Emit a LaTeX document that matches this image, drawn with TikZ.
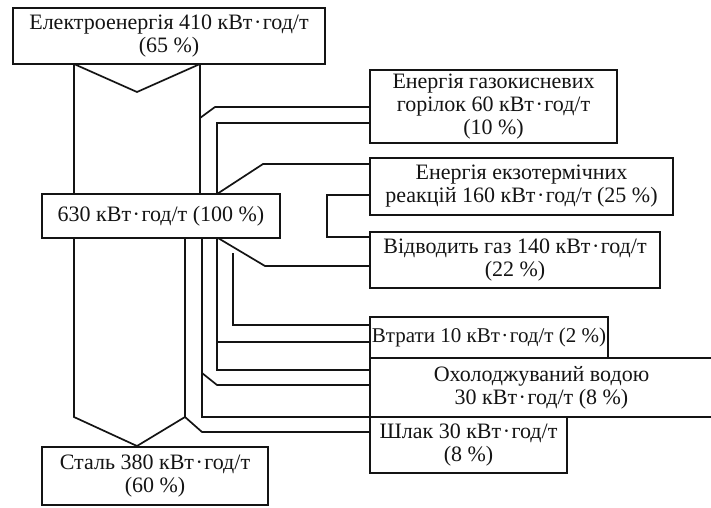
\documentclass[tikz,border=0pt]{standalone}
\usepackage{fontspec}
\setmainfont{Liberation Serif}
\usetikzlibrary{positioning,calc}
\definecolor{flowInk}{HTML}{141414}
\newcommand{\kwh}{кВт\kern1.5pt·\kern1.5pt год/т}
\tikzset{
  flowbox/.style = {draw=flowInk, line width=1.7pt, fill=white, align=center,
                    inner sep=0pt, outer sep=0pt, anchor=north west,
                    font=\fontsize{22}{23}\selectfont, text=flowInk},
  band/.style    = {draw=flowInk, line width=1.7pt, line join=miter},
}

\begin{document}
\begin{tikzpicture}[x=1pt, y=-1pt]
  \useasboundingbox (0,0) rectangle (711,507);

  % boxes
  \node[flowbox, minimum width=312pt, minimum height=56pt] (elec) at (13,8)
    {Електроенергія 410 \kwh\\(65~\%)};
  \node[flowbox, minimum width=238pt, minimum height=44pt] (total) at (42,194)
    {630 \kwh\ (100~\%)};
  \node[flowbox, minimum width=226pt, minimum height=58pt] (steel) at (42,447)
    {Сталь 380 \kwh\\(60~\%)};
  \node[flowbox, minimum width=247pt, minimum height=73pt] (gasox) at (370,70)
    {Енергія газокисневих\\горілок 60 \kwh\\(10~\%)};
  \node[flowbox, minimum width=303pt, minimum height=57pt] (exo) at (370,158)
    {Енергія екзотермічних\\реакцій 160 \kwh\ (25~\%)};
  \node[flowbox, minimum width=290pt, minimum height=56pt] (offgas) at (370,232)
    {Відводить газ 140 \kwh\\(22~\%)};
  \node[flowbox, minimum width=238pt, minimum height=41pt,
        font=\fontsize{21}{23}\selectfont] (loss) at (370,317)
    {Втрати 10 \kwh\ (2~\%)};
  \node[flowbox, minimum width=343pt, minimum height=59pt] (cool) at (370,358)
    {Охолоджуваний водою\\30 \kwh\ (8~\%)};
  \node[flowbox, minimum width=197pt, minimum height=56pt] (slag) at (370,417)
    {Шлак 30 \kwh\\(8~\%)};

  % band edges
  \coordinate (xL) at (74,0);
  \coordinate (xR) at (200,0);
  \coordinate (xS) at (185,0);
  \coordinate (xA) at (202,0);
  \coordinate (xC) at (217,0);
  \coordinate (vtop) at (137,92);
  \coordinate (vbot) at (137,446);
  \coordinate (sL) at (74,417);
  \coordinate (sR) at (185,417);

  % electricity in, steel out
  \draw[band] (xL |- elec.south) -- (vtop) -- (xR |- elec.south);
  \draw[band] (xL |- elec.south) -- (xL |- total.north);
  \draw[band] (xR |- elec.south) -- (xR |- total.north);
  \draw[band] (xL |- total.south) -- (sL) -- (vbot) -- (sR) -- (xS |- total.south);

  % gas-oxygen burners
  \coordinate (g0) at (200,118);
  \coordinate (g1) at (215,107);
  \coordinate (g2) at (217,123);
  \draw[band] (g0) -- (g1) -- (g1 -| gasox.west);
  \draw[band] (xC |- total.north) -- (g2) -- (g2 -| gasox.west);

  % exothermic reactions and off-gas
  \coordinate (e1) at (263,164);
  \coordinate (b1) at (327,195);
  \coordinate (b2) at (327,237);
  \coordinate (o0) at (218,238);
  \coordinate (o1) at (265,266);
  \draw[band] (xC |- total.north) -- (e1) -- (e1 -| exo.west);
  \draw[band] (b1 -| exo.west) -- (b1) -- (b2) -- (b2 -| offgas.west);
  \draw[band] (o0) -- (o1) -- (o1 -| offgas.west);

  % losses, cooling water, slag
  \coordinate (w0) at (233,253);
  \coordinate (w1) at (233,325);
  \coordinate (d0) at (217,342);
  \coordinate (c3) at (217,370);
  \coordinate (c0) at (202,373);
  \coordinate (c1) at (217,385);
  \coordinate (a1) at (202,417);
  \coordinate (s1) at (202,432);
  \draw[band] (w0) -- (w1) -- (w1 -| loss.west);
  \draw[band] (d0) -- (d0 -| loss.west);
  \draw[band] (xC |- total.south) -- (c3) -- (c3 -| cool.west);
  \draw[band] (c0) -- (c1) -- (c1 -| cool.west);
  \draw[band] (xA |- total.south) -- (a1) -- (a1 -| cool.west);
  \draw[band] (sR) -- (s1) -- (s1 -| slag.west);
\end{tikzpicture}
\end{document}
